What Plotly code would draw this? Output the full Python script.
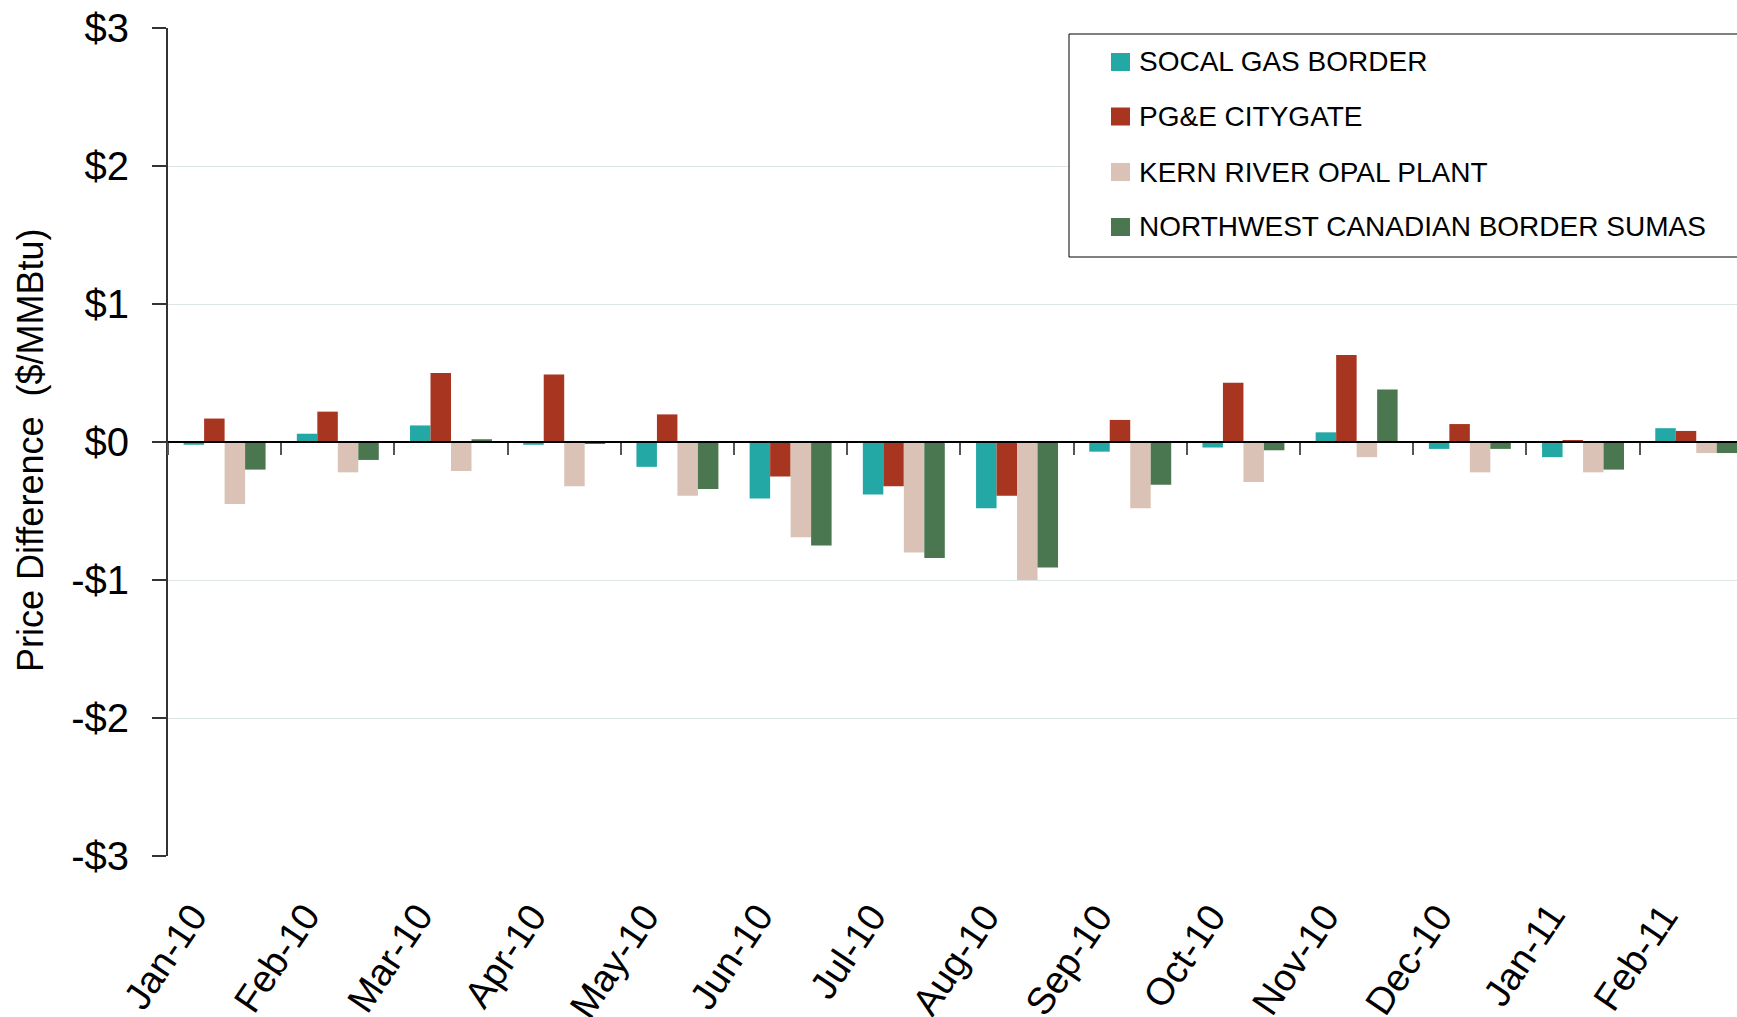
import plotly.graph_objects as go

# ---- data ----
months = ["Jan-10", "Feb-10", "Mar-10", "Apr-10", "May-10", "Jun-10", "Jul-10",
          "Aug-10", "Sep-10", "Oct-10", "Nov-10", "Dec-10", "Jan-11", "Feb-11"]
socal = [-0.02, 0.06, 0.12, -0.02, -0.18, -0.41, -0.38, -0.48, -0.07, -0.04, 0.07, -0.05, -0.11, 0.10]
pge = [0.17, 0.22, 0.50, 0.49, 0.20, -0.25, -0.32, -0.39, 0.16, 0.43, 0.63, 0.13, 0.01, 0.08]
kern = [-0.45, -0.22, -0.21, -0.32, -0.39, -0.69, -0.80, -1.00, -0.48, -0.29, -0.11, -0.22, -0.22, -0.08]
nw = [-0.20, -0.13, 0.02, -0.01, -0.34, -0.75, -0.84, -0.91, -0.31, -0.06, 0.38, -0.05, -0.20, -0.08]
series_names = ["SOCAL GAS BORDER", "PG&E CITYGATE", "KERN RIVER OPAL PLANT",
                "NORTHWEST CANADIAN BORDER SUMAS"]
colors = ["#23A8A5", "#A83520", "#DAC3B6", "#4B7750"]
y_tickvals = [-3, -2, -1, 0, 1, 2, 3]
y_ticktext = ["-$3", "-$2", "-$1", "$0", "$1", "$2", "$3"]
y_title = "Price Difference\u00a0\u00a0($/MMBtu)"

FONT = "Liberation Sans, Arial, sans-serif"
W, H = 1737, 1017
L, R, T, B = 168, 0, 28, 161
PW, PH = W - L - R, H - T - B


def px_x(px):
    return (px - L) / PW


def px_y(py):
    return (H - B - py) / PH


fig = go.Figure()
for name, vals, col in zip(series_names, [socal, pge, kern, nw], colors):
    fig.add_trace(go.Bar(x=months, y=vals, name=name, marker=dict(color=col, line=dict(width=0)),
                         showlegend=False, hoverinfo="skip"))

# invisible trace so the category axis at y=0 is drawn
fig.add_trace(go.Scatter(x=months, y=[None] * len(months), xaxis="x2", yaxis="y",
                         showlegend=False, hoverinfo="skip", mode="markers"))

xrange = [-0.5, 13.36]
fig.update_layout(
    width=W, height=H, autosize=False,
    margin=dict(l=L, r=R, t=T, b=B, pad=0, autoexpand=False),
    paper_bgcolor="white", plot_bgcolor="white",
    font=dict(family=FONT, color="black"),
    barmode="group", bargap=0.276, bargroupgap=0,
    hovermode=False,
    xaxis=dict(type="category", categoryorder="array", categoryarray=months, range=xrange,
               showline=False, ticks="", showgrid=False, zeroline=False,
               showticklabels=False, automargin=False),
    xaxis2=dict(type="category", categoryorder="array", categoryarray=months, range=xrange,
                overlaying="x", anchor="free", position=0.5,
                showline=True, linecolor="black", linewidth=2,
                ticks="outside", tickson="boundaries", ticklen=12, tickwidth=2, tickcolor="#555555",
                showticklabels=False, showgrid=False, zeroline=False, automargin=False),
    yaxis=dict(range=[-3, 3], tickvals=y_tickvals, ticktext=y_ticktext,
               showline=True, linecolor="#333333", linewidth=2,
               ticks="outside", ticklen=14, tickwidth=2, tickcolor="#333333",
               showgrid=True, gridcolor="#dde4e4", gridwidth=1, zeroline=False,
               tickfont=dict(size=40, family=FONT, color="black"),
               ticklabelstandoff=15, automargin=False),
)

# category labels (rotated), placed at each category through the x axis
for m in months:
    fig.add_annotation(text=m, x=m, xref="x", y=px_y(894), yref="paper",
                       textangle=-56, showarrow=False, xanchor="right", yanchor="top",
                       xshift=-7, font=dict(size=38, family=FONT, color="black"))

# y-axis title
fig.add_annotation(text=y_title, xref="paper", yref="paper", x=px_x(30), y=px_y(451),
                   textangle=-90, showarrow=False, xanchor="center", yanchor="middle",
                   font=dict(size=36, family=FONT, color="black"))

# legend box
fig.add_shape(type="rect", xref="paper", yref="paper", x0=px_x(1069), x1=px_x(1760),
              y0=px_y(257), y1=px_y(34), line=dict(color="black", width=1), fillcolor="white",
              layer="above")
legend_y = [62, 116.5, 172, 227]
for name, col, yc in zip(series_names, colors, legend_y):
    fig.add_shape(type="rect", xref="paper", yref="paper", x0=px_x(1111), x1=px_x(1130),
                  y0=px_y(yc + 9), y1=px_y(yc - 9), line=dict(width=0), fillcolor=col, layer="above")
    fig.add_annotation(text=name, xref="paper", yref="paper", x=px_x(1137), y=px_y(yc),
                       xanchor="left", yanchor="middle", showarrow=False,
                       font=dict(size=28, family=FONT, color="black"))

fig.write_html("out.html", config={"displayModeBar": False},
               post_script="document.body.style.margin='0';document.body.style.overflow='hidden';")
